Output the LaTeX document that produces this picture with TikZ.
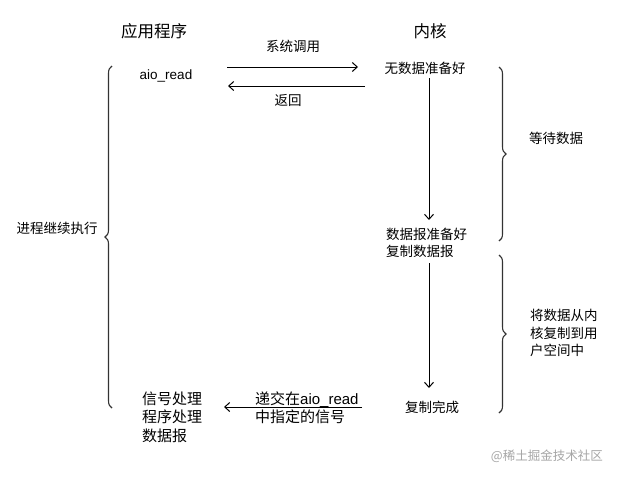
\documentclass[tikz,border=0pt]{standalone}
\usepackage{fontspec}
\setmainfont{Liberation Sans}
\newfontfamily\cjk{Noto Sans CJK SC}
\usetikzlibrary{arrows.meta,decorations.pathreplacing}
\tikzset{
  base/.style={inner sep=0pt, font=\cjk\fontsize{13.5}{17.5}\selectfont, text=black},
  title/.style={base, font=\cjk\fontsize{16.5}{20}\selectfont},
  wide/.style={base, font=\cjk\fontsize{15}{18.5}\selectfont},
  arr/.style={draw=black, line width=1pt, -{Straight Barb[length=5pt,width=9pt]}},
  brace/.style={draw=black!80, line width=1.1pt, decorate, decoration={brace, amplitude=7pt}},
  wm/.style={base, font=\cjk\fontsize{12.5}{15}\selectfont, text=black!35}
}
\begin{document}
\begin{tikzpicture}[x=1pt, y=-1pt]
\useasboundingbox (0,0) rectangle (617,477);
\fill[white] (0,0) rectangle (617,477);
% titles
\node[title] (app) at (154,31) {应用程序};
\node[title] (kern) at (430,31) {内核};
% labels
\node[base] (syscall) at (293,46) {系统调用};
\node[base, font=\fontsize{13.5}{16}\selectfont] (aio) at (166,76) {aio\_read};
\node[base] (nodata) at (425,68) {无数据准备好};
\node[base] (ret) at (288,100) {返回};
\node[base, anchor=west, align=left] (ready) at (386,243) {数据报准备好\\复制数据报};
\node[base] (done) at (432,407) {复制完成};
\node[wide, anchor=west, align=left] (sig) at (142,417) {信号处理\\程序处理\\数据报};
\node[wide, anchor=west, align=left] (deliver) at (255,407.5) {递交在\fontspec{Liberation Sans}aio\_read\\中指定的信号};
\node[base] (cont) at (57,228) {进程继续执行};
\node[base] (wait) at (556,138) {等待数据};
\node[base, anchor=west, align=left] (copy) at (530,333) {将数据从内\\核复制到用\\户空间中};
\node[wm, anchor=east] (mark) at (603,456) {@稀土掘金技术社区};
% connector end points
\coordinate (a1) at (227,67);
\coordinate (a2) at (358,67);
\coordinate (b1) at (365,86);
\coordinate (b2) at (228,86);
\coordinate (v1) at (429,78);
\coordinate (v2) at (429,220);
\coordinate (w1) at (429,263);
\coordinate (w2) at (429,388);
\coordinate (c1) at (362,407);
\coordinate (c2) at (224,407);
\draw[arr] (a1) -- (a2);
\draw[arr] (b1) -- (b2);
\draw[arr] (v1) -- (v2);
\draw[arr] (w1) -- (w2);
\draw[arr] (c1) -- (c2);
% braces
\coordinate (L1) at (112,408);
\coordinate (L2) at (112,66);
\coordinate (R1) at (499,67);
\coordinate (R2) at (499,241);
\coordinate (R3) at (499,255);
\coordinate (R4) at (499,413);
\draw[brace] (L1) -- (L2);
\draw[brace] (R1) -- (R2);
\draw[brace] (R3) -- (R4);
\end{tikzpicture}
\end{document}
